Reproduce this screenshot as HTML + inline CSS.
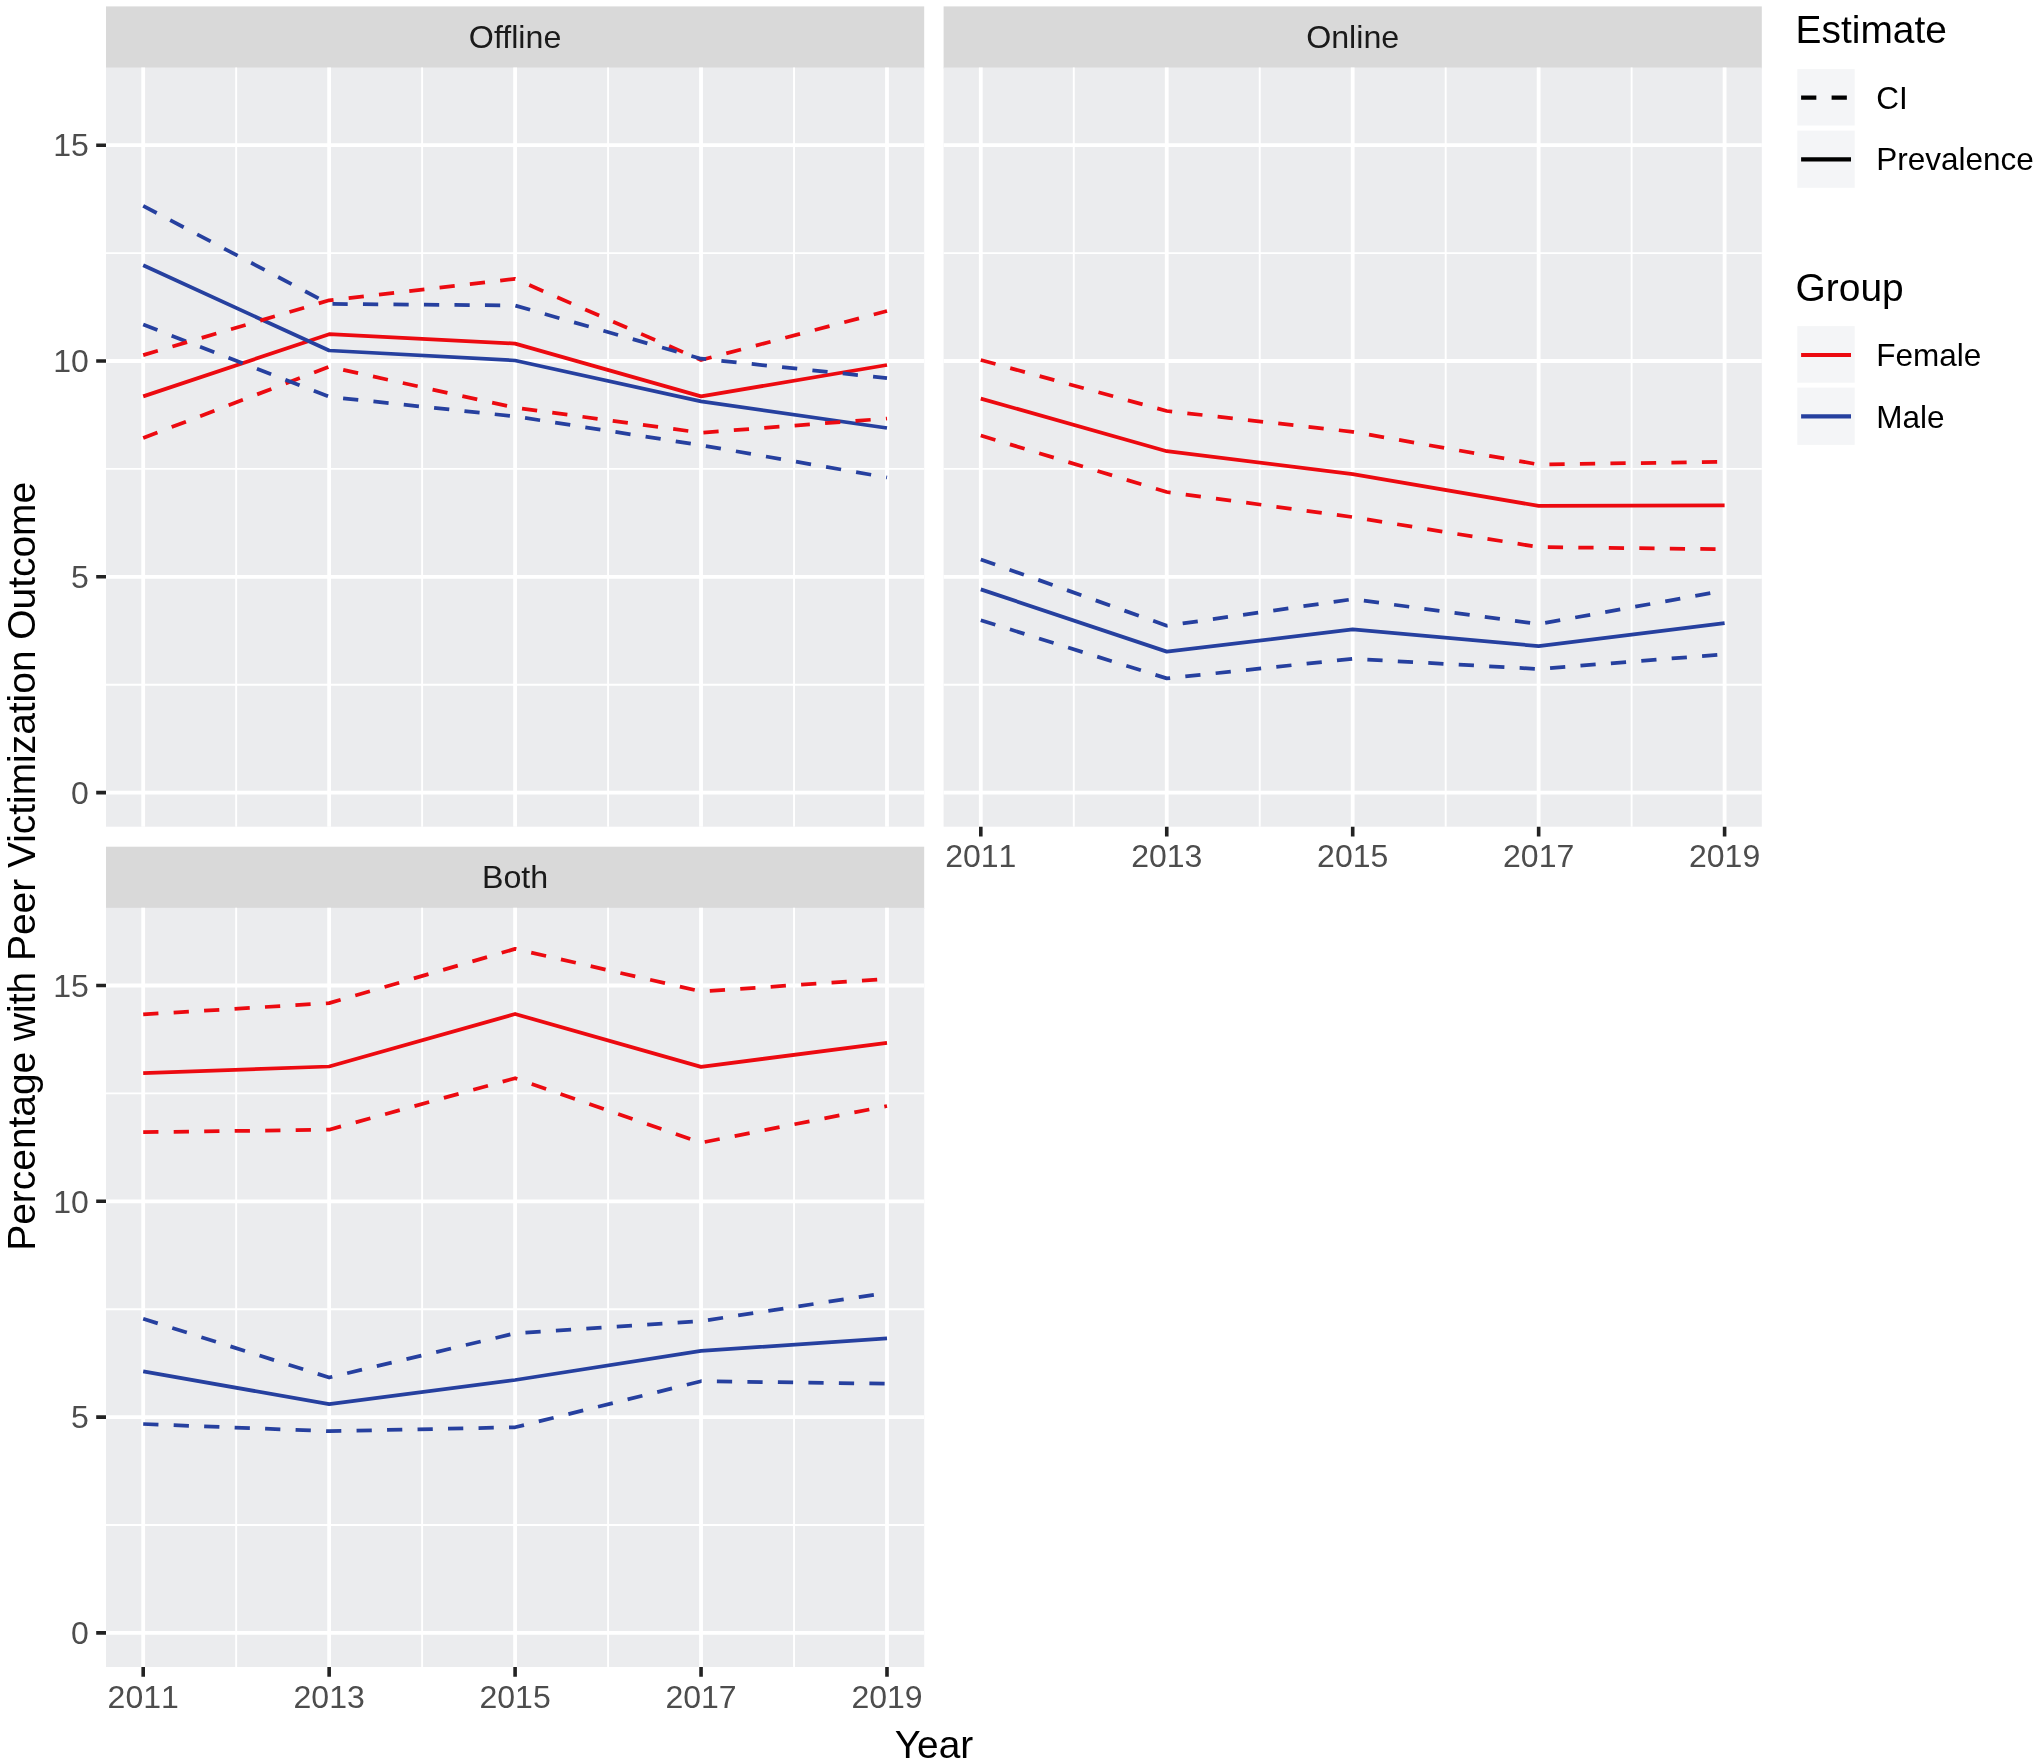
<!DOCTYPE html>
<html><head><meta charset="utf-8"><title>Peer victimization prevalence</title>
<style>html,body{margin:0;padding:0;background:#fff}svg{display:block;will-change:transform}text{font-family:"Liberation Sans", sans-serif}.t{font-kerning:none}</style>
</head><body>
<svg width="2040" height="1764" viewBox="0 0 2040 1764">
<rect width="2040" height="1764" fill="#fff"/>
<rect x="106" y="6.4" width="818.2" height="62.1" fill="#d9d9d9"/>
<text x="515.1" y="48.05" font-size="32.2" fill="#1a1a1a" text-anchor="middle">Offline</text>
<rect x="106" y="67.5" width="818.2" height="759.2" fill="#ebecee"/>
<path d="M106 684.7H924.2M106 468.9H924.2M106 253.1H924.2M236.17 67.5V826.7M422.12 67.5V826.7M608.08 67.5V826.7M794.02 67.5V826.7" stroke="#fff" stroke-width="1.9" fill="none"/>
<path d="M106 792.6H924.2M106 576.8H924.2M106 361H924.2M106 145.2H924.2M143.2 67.5V826.7M329.15 67.5V826.7M515.1 67.5V826.7M701.05 67.5V826.7M887 67.5V826.7" stroke="#fff" stroke-width="3.8" fill="none"/>
<path d="M143.2 396.4L329.15 334.2L515.1 343.6L701.05 396.4L887 365" stroke="#ec0a10" stroke-width="3.75" stroke-linejoin="round" fill="none"/>
<path d="M143.2 265.3L329.15 350.5L515.1 360.5L701.05 401.3L887 428" stroke="#26409f" stroke-width="3.75" stroke-linejoin="round" fill="none"/>
<path d="M143.2 438L329.15 366.8L515.1 407.7L701.05 432.7L887 418.5" stroke="#ec0a10" stroke-width="3.75" stroke-dasharray="15.25 15.25" stroke-linejoin="round" fill="none"/>
<path d="M143.2 324.6L329.15 396.8L515.1 416.4L701.05 445.2L887 477.5" stroke="#26409f" stroke-width="3.75" stroke-dasharray="15.25 15.25" stroke-linejoin="round" fill="none"/>
<path d="M143.2 355.1L329.15 300.3L515.1 278.9L701.05 360L887 311" stroke="#ec0a10" stroke-width="3.75" stroke-dasharray="15.25 15.25" stroke-linejoin="round" fill="none"/>
<path d="M143.2 205.9L329.15 303.9L515.1 305.5L701.05 358.7L887 378.1" stroke="#26409f" stroke-width="3.75" stroke-dasharray="15.25 15.25" stroke-linejoin="round" fill="none"/>
<rect x="943.6" y="6.4" width="818.2" height="62.1" fill="#d9d9d9"/>
<text x="1352.7" y="48.05" font-size="32.2" fill="#1a1a1a" text-anchor="middle">Online</text>
<rect x="943.6" y="67.5" width="818.2" height="759.2" fill="#ebecee"/>
<path d="M943.6 684.7H1761.8M943.6 468.9H1761.8M943.6 253.1H1761.8M1073.78 67.5V826.7M1259.72 67.5V826.7M1445.68 67.5V826.7M1631.62 67.5V826.7" stroke="#fff" stroke-width="1.9" fill="none"/>
<path d="M943.6 792.6H1761.8M943.6 576.8H1761.8M943.6 361H1761.8M943.6 145.2H1761.8M980.8 67.5V826.7M1166.75 67.5V826.7M1352.7 67.5V826.7M1538.65 67.5V826.7M1724.6 67.5V826.7" stroke="#fff" stroke-width="3.8" fill="none"/>
<path d="M980.8 398.6L1166.75 451.2L1352.7 474.1L1538.65 505.9L1724.6 505.3" stroke="#ec0a10" stroke-width="3.75" stroke-linejoin="round" fill="none"/>
<path d="M980.8 589.4L1166.75 651.6L1352.7 629.4L1538.65 646.1L1724.6 623.1" stroke="#26409f" stroke-width="3.75" stroke-linejoin="round" fill="none"/>
<path d="M980.8 435.5L1166.75 492L1352.7 517.1L1538.65 547.1L1724.6 549.2" stroke="#ec0a10" stroke-width="3.75" stroke-dasharray="15.25 15.25" stroke-linejoin="round" fill="none"/>
<path d="M980.8 620.2L1166.75 678.4L1352.7 658.8L1538.65 669L1724.6 654.3" stroke="#26409f" stroke-width="3.75" stroke-dasharray="15.25 15.25" stroke-linejoin="round" fill="none"/>
<path d="M980.8 360L1166.75 411L1352.7 431.8L1538.65 464.5L1724.6 461.8" stroke="#ec0a10" stroke-width="3.75" stroke-dasharray="15.25 15.25" stroke-linejoin="round" fill="none"/>
<path d="M980.8 559.4L1166.75 625.7L1352.7 599.2L1538.65 624.1L1724.6 590.6" stroke="#26409f" stroke-width="3.75" stroke-dasharray="15.25 15.25" stroke-linejoin="round" fill="none"/>
<path d="M980.8 826.7v9.8M1166.75 826.7v9.8M1352.7 826.7v9.8M1538.65 826.7v9.8M1724.6 826.7v9.8" stroke="#222222" stroke-width="3.6" fill="none"/>
<text x="980.8" y="867.4" class="t" font-size="32.0" fill="#4d4d4d" text-anchor="middle">2011</text>
<text x="1166.75" y="867.4" class="t" font-size="32.0" fill="#4d4d4d" text-anchor="middle">2013</text>
<text x="1352.7" y="867.4" class="t" font-size="32.0" fill="#4d4d4d" text-anchor="middle">2015</text>
<text x="1538.65" y="867.4" class="t" font-size="32.0" fill="#4d4d4d" text-anchor="middle">2017</text>
<text x="1724.6" y="867.4" class="t" font-size="32.0" fill="#4d4d4d" text-anchor="middle">2019</text>
<rect x="106" y="846.7" width="818.2" height="62.1" fill="#d9d9d9"/>
<text x="515.1" y="888.35" font-size="32.2" fill="#1a1a1a" text-anchor="middle">Both</text>
<rect x="106" y="907.8" width="818.2" height="759.2" fill="#ebecee"/>
<path d="M106 1525H924.2M106 1309.2H924.2M106 1093.4H924.2M236.17 907.8V1667M422.12 907.8V1667M608.08 907.8V1667M794.02 907.8V1667" stroke="#fff" stroke-width="1.9" fill="none"/>
<path d="M106 1632.9H924.2M106 1417.1H924.2M106 1201.3H924.2M106 985.5H924.2M143.2 907.8V1667M329.15 907.8V1667M515.1 907.8V1667M701.05 907.8V1667M887 907.8V1667" stroke="#fff" stroke-width="3.8" fill="none"/>
<path d="M143.2 1073.1L329.15 1066.5L515.1 1014L701.05 1066.9L887 1042.8" stroke="#ec0a10" stroke-width="3.75" stroke-linejoin="round" fill="none"/>
<path d="M143.2 1371.3L329.15 1404.2L515.1 1380L701.05 1350.9L887 1338.4" stroke="#26409f" stroke-width="3.75" stroke-linejoin="round" fill="none"/>
<path d="M143.2 1132.2L329.15 1129.7L515.1 1078.2L701.05 1142.7L887 1106" stroke="#ec0a10" stroke-width="3.75" stroke-dasharray="15.25 15.25" stroke-linejoin="round" fill="none"/>
<path d="M143.2 1424L329.15 1431.2L515.1 1427.3L701.05 1381.2L887 1383.7" stroke="#26409f" stroke-width="3.75" stroke-dasharray="15.25 15.25" stroke-linejoin="round" fill="none"/>
<path d="M143.2 1014.4L329.15 1003.1L515.1 948.9L701.05 991.4L887 979" stroke="#ec0a10" stroke-width="3.75" stroke-dasharray="15.25 15.25" stroke-linejoin="round" fill="none"/>
<path d="M143.2 1318.8L329.15 1377.5L515.1 1333.3L701.05 1321.1L887 1292.8" stroke="#26409f" stroke-width="3.75" stroke-dasharray="15.25 15.25" stroke-linejoin="round" fill="none"/>
<path d="M143.2 1667v9.8M329.15 1667v9.8M515.1 1667v9.8M701.05 1667v9.8M887 1667v9.8" stroke="#222222" stroke-width="3.6" fill="none"/>
<text x="143.2" y="1707.7" class="t" font-size="32.0" fill="#4d4d4d" text-anchor="middle">2011</text>
<text x="329.15" y="1707.7" class="t" font-size="32.0" fill="#4d4d4d" text-anchor="middle">2013</text>
<text x="515.1" y="1707.7" class="t" font-size="32.0" fill="#4d4d4d" text-anchor="middle">2015</text>
<text x="701.05" y="1707.7" class="t" font-size="32.0" fill="#4d4d4d" text-anchor="middle">2017</text>
<text x="887" y="1707.7" class="t" font-size="32.0" fill="#4d4d4d" text-anchor="middle">2019</text>
<text x="88.8" y="803.8" font-size="32.0" fill="#4d4d4d" text-anchor="end">0</text>
<text x="88.8" y="588" font-size="32.0" fill="#4d4d4d" text-anchor="end">5</text>
<text x="88.8" y="372.2" font-size="32.0" fill="#4d4d4d" text-anchor="end">10</text>
<text x="88.8" y="156.4" font-size="32.0" fill="#4d4d4d" text-anchor="end">15</text>
<path d="M106 792.6h-9.8M106 576.8h-9.8M106 361h-9.8M106 145.2h-9.8" stroke="#222222" stroke-width="3.6" fill="none"/>
<text x="88.8" y="1644.1" font-size="32.0" fill="#4d4d4d" text-anchor="end">0</text>
<text x="88.8" y="1428.3" font-size="32.0" fill="#4d4d4d" text-anchor="end">5</text>
<text x="88.8" y="1212.5" font-size="32.0" fill="#4d4d4d" text-anchor="end">10</text>
<text x="88.8" y="996.7" font-size="32.0" fill="#4d4d4d" text-anchor="end">15</text>
<path d="M106 1632.9h-9.8M106 1417.1h-9.8M106 1201.3h-9.8M106 985.5h-9.8" stroke="#222222" stroke-width="3.6" fill="none"/>
<text transform="translate(934 1757.6) scale(1 1.02)" font-size="38.9" fill="#000" text-anchor="middle">Year</text>
<text transform="translate(34.8 866.3) rotate(-90) scale(1 1.02)" font-size="38.9" fill="#000" text-anchor="middle">Percentage with Peer Victimization Outcome</text>
<text transform="translate(1795.6 43) scale(1 1.02)" font-size="38.9" fill="#000">Estimate</text>
<rect x="1797.3" y="69.1" width="57.4" height="56.4" fill="#f4f5f7"/>
<path d="M1801.1 97.7H1851" stroke="#000" stroke-width="4.2" stroke-dasharray="15.25 15.25" fill="none"/>
<text x="1876.3" y="108.9" font-size="31.5" fill="#000">CI</text>
<rect x="1797.3" y="130.6" width="57.4" height="57.2" fill="#f4f5f7"/>
<path d="M1801.1 159.3H1851" stroke="#000" stroke-width="4.2" fill="none"/>
<text x="1876.3" y="170.4" font-size="31.5" fill="#000">Prevalence</text>
<text transform="translate(1795.6 301) scale(1 1.02)" font-size="38.9" fill="#000">Group</text>
<rect x="1797.3" y="326.1" width="57.4" height="56.6" fill="#f4f5f7"/>
<path d="M1801.1 355H1851" stroke="#ec0a10" stroke-width="4.2" fill="none"/>
<text x="1876.3" y="366.1" font-size="31.5" fill="#000">Female</text>
<rect x="1797.3" y="387.6" width="57.4" height="57.3" fill="#f4f5f7"/>
<path d="M1801.1 416.4H1851" stroke="#26409f" stroke-width="4.2" fill="none"/>
<text x="1876.3" y="427.6" font-size="31.5" fill="#000">Male</text>
</svg>
</body></html>
